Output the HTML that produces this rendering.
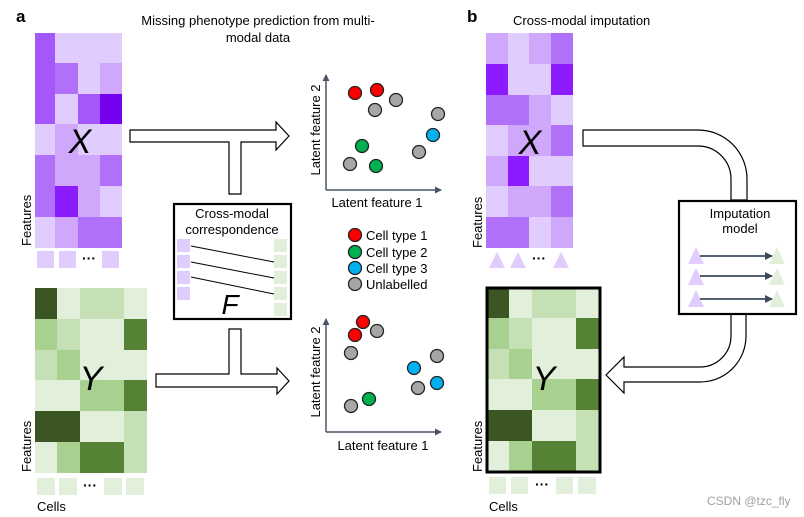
<!DOCTYPE html>
<html><head><meta charset="utf-8"><style>
html,body{margin:0;padding:0;background:#fff;}
svg{display:block;font-family:"Liberation Sans",sans-serif;}
</style></head><body>
<svg width="804" height="517" viewBox="0 0 804 517" xmlns="http://www.w3.org/2000/svg">
<defs>
<marker id="ah" markerWidth="8" markerHeight="8" refX="7" refY="4" orient="auto" markerUnits="userSpaceOnUse"><path d="M0,0 L8,4 L0,8 Z" fill="#3d4a5c"/></marker>
<marker id="ax" markerWidth="8" markerHeight="8" refX="6" refY="4" orient="auto" markerUnits="userSpaceOnUse"><path d="M0,0.5 L7,4 L0,7.5 Z" fill="#4a5568"/></marker>
</defs>
<text x="16" y="22" font-size="17" font-weight="bold">a</text>
<text x="258" y="25" font-size="13" text-anchor="middle">Missing phenotype prediction from multi-</text>
<text x="258" y="42" font-size="13" text-anchor="middle">modal data</text>
<text x="467" y="22" font-size="17" font-weight="bold">b</text>
<text x="513" y="25" font-size="13">Cross-modal imputation</text>

<!-- X matrix a -->
<g>
<rect x="35" y="33" width="20" height="91" fill="#a458fb"/>
<rect x="55" y="33" width="67" height="30" fill="#e0cdfd"/>
<rect x="55" y="63" width="23" height="31" fill="#b070f8"/><rect x="78" y="63" width="22" height="31" fill="#e0cdfd"/><rect x="100" y="63" width="22" height="31" fill="#cfa8fb"/>
<rect x="55" y="94" width="23" height="30" fill="#e0cdfd"/><rect x="78" y="94" width="22" height="30" fill="#a458fb"/><rect x="100" y="94" width="22" height="30" fill="#7600f0"/>
<rect x="35" y="124" width="20" height="31" fill="#e0cdfd"/><rect x="55" y="124" width="23" height="31" fill="#cfa8fb"/><rect x="78" y="124" width="44" height="31" fill="#e0cdfd"/>
<rect x="35" y="155" width="20" height="62" fill="#b070f8"/><rect x="55" y="155" width="45" height="31" fill="#cfa8fb"/><rect x="100" y="155" width="22" height="31" fill="#b070f8"/>
<rect x="55" y="186" width="23" height="31" fill="#8c1cff"/><rect x="78" y="186" width="22" height="31" fill="#cfa8fb"/><rect x="100" y="186" width="22" height="31" fill="#e0cdfd"/>
<rect x="35" y="217" width="20" height="31" fill="#e0cdfd"/><rect x="55" y="217" width="23" height="31" fill="#cfa8fb"/><rect x="78" y="217" width="44" height="31" fill="#b070f8"/>
<text x="80" y="153" font-size="34" font-style="italic" text-anchor="middle">X</text>
<rect x="37" y="251" width="17" height="17" fill="#e0cdfd"/><rect x="59" y="251" width="17" height="17" fill="#e0cdfd"/><rect x="102" y="251" width="17" height="17" fill="#e0cdfd"/>
<text x="89" y="263" font-size="14" text-anchor="middle" font-weight="bold">···</text>
<text transform="translate(31,246) rotate(-90)" font-size="13">Features</text>
</g>

<!-- Y matrix a -->
<g>
<rect x="35" y="288" width="22" height="31" fill="#3b5523"/><rect x="57" y="288" width="23" height="31" fill="#e2efda"/><rect x="80" y="288" width="44" height="31" fill="#c5e0b4"/><rect x="124" y="288" width="23" height="31" fill="#e2efda"/>
<rect x="35" y="319" width="22" height="31" fill="#a8d08e"/><rect x="57" y="319" width="23" height="31" fill="#c5e0b4"/><rect x="80" y="319" width="44" height="31" fill="#e2efda"/><rect x="124" y="319" width="23" height="31" fill="#558234"/>
<rect x="35" y="350" width="22" height="30" fill="#c5e0b4"/><rect x="57" y="350" width="23" height="30" fill="#a8d08e"/><rect x="80" y="350" width="67" height="30" fill="#e2efda"/>
<rect x="35" y="380" width="45" height="31" fill="#e2efda"/><rect x="80" y="380" width="44" height="31" fill="#a8d08e"/><rect x="124" y="380" width="23" height="31" fill="#558234"/>
<rect x="35" y="411" width="45" height="31" fill="#3b5523"/><rect x="80" y="411" width="44" height="31" fill="#e2efda"/><rect x="124" y="411" width="23" height="31" fill="#c5e0b4"/>
<rect x="35" y="442" width="22" height="31" fill="#e2efda"/><rect x="57" y="442" width="23" height="31" fill="#a8d08e"/><rect x="80" y="442" width="44" height="31" fill="#558234"/><rect x="124" y="442" width="23" height="31" fill="#c5e0b4"/>
<text x="91" y="390" font-size="34" font-style="italic" text-anchor="middle">Y</text>
<rect x="37" y="478" width="18" height="17" fill="#e2efda"/><rect x="59" y="478" width="18" height="17" fill="#e2efda"/><rect x="104" y="478" width="18" height="17" fill="#e2efda"/><rect x="126" y="478" width="18" height="17" fill="#e2efda"/>
<text x="90" y="490" font-size="14" text-anchor="middle" font-weight="bold">···</text>
<text transform="translate(31,472) rotate(-90)" font-size="13">Features</text>
<text x="37" y="511" font-size="13">Cells</text>
</g>

<!-- block arrows a -->
<polygon points="130,130 276,130 276,122 289,136 276,150 276,142 241,142 241,194 229,194 229,142 130,142" fill="#fff" stroke="#000" stroke-width="1.2"/>
<polygon points="156,374 229,374 229,329 241,329 241,374 277,374 277,368 289,381 277,394 277,387 156,387" fill="#fff" stroke="#000" stroke-width="1.2"/>

<!-- correspondence box -->
<rect x="174" y="204" width="117" height="115" fill="#fff" stroke="#000" stroke-width="2.2"/>
<text x="232" y="218" font-size="13" text-anchor="middle">Cross-modal</text>
<text x="232" y="234" font-size="13" text-anchor="middle">correspondence</text>
<rect x="177" y="239" width="13" height="13" fill="#e0cdfd"/><rect x="177" y="255" width="13" height="13" fill="#e0cdfd"/><rect x="177" y="271" width="13" height="13" fill="#e0cdfd"/><rect x="177" y="287" width="13" height="13" fill="#e0cdfd"/>
<rect x="274" y="239" width="13" height="13" fill="#e2efda"/><rect x="274" y="255" width="13" height="13" fill="#e2efda"/><rect x="274" y="271" width="13" height="13" fill="#e2efda"/><rect x="274" y="287" width="13" height="13" fill="#e2efda"/><rect x="274" y="303" width="13" height="13" fill="#e2efda"/>
<line x1="191" y1="246" x2="274" y2="262" stroke="#000" stroke-width="1"/>
<line x1="191" y1="262" x2="274" y2="278" stroke="#000" stroke-width="1"/>
<line x1="191" y1="277" x2="274" y2="294" stroke="#000" stroke-width="1"/>
<text x="230" y="314" font-size="28" font-style="italic" text-anchor="middle">F</text>

<!-- scatter top -->
<g stroke="#222" stroke-width="1.3">
<line x1="326" y1="190" x2="326" y2="75" stroke="#4a5568" stroke-width="1.5" marker-end="url(#ax)"/>
<line x1="326" y1="190" x2="441" y2="190" stroke="#4a5568" stroke-width="1.5" marker-end="url(#ax)"/>
<circle cx="355" cy="93" r="6.5" fill="#f00"/><circle cx="377" cy="90" r="6.5" fill="#f00"/>
<circle cx="375" cy="110" r="6.5" fill="#a6a6a6"/><circle cx="396" cy="100" r="6.5" fill="#a6a6a6"/><circle cx="438" cy="114" r="6.5" fill="#a6a6a6"/>
<circle cx="433" cy="135" r="6.5" fill="#00b0f0"/><circle cx="419" cy="152" r="6.5" fill="#a6a6a6"/>
<circle cx="362" cy="146" r="6.5" fill="#00b050"/><circle cx="350" cy="164" r="6.5" fill="#a6a6a6"/><circle cx="376" cy="166" r="6.5" fill="#00b050"/>
</g>
<text x="377" y="207" font-size="13" text-anchor="middle">Latent feature 1</text>
<text transform="translate(320,130) rotate(-90)" font-size="13" text-anchor="middle">Latent feature 2</text>

<!-- legend -->
<g stroke="#222" stroke-width="1.3">
<circle cx="355" cy="235" r="6.5" fill="#f00"/><circle cx="355" cy="252" r="6.5" fill="#00b050"/><circle cx="355" cy="268" r="6.5" fill="#00b0f0"/><circle cx="355" cy="284" r="6.5" fill="#a6a6a6"/>
</g>
<text x="366" y="240" font-size="13">Cell type 1</text>
<text x="366" y="257" font-size="13">Cell type 2</text>
<text x="366" y="273" font-size="13">Cell type 3</text>
<text x="366" y="289" font-size="13">Unlabelled</text>

<!-- scatter bottom -->
<g stroke="#222" stroke-width="1.3">
<line x1="326" y1="432" x2="326" y2="319" stroke="#4a5568" stroke-width="1.5" marker-end="url(#ax)"/>
<line x1="326" y1="432" x2="441" y2="432" stroke="#4a5568" stroke-width="1.5" marker-end="url(#ax)"/>
<circle cx="363" cy="322" r="6.5" fill="#f00"/><circle cx="355" cy="335" r="6.5" fill="#f00"/>
<circle cx="377" cy="331" r="6.5" fill="#a6a6a6"/><circle cx="351" cy="353" r="6.5" fill="#a6a6a6"/>
<circle cx="414" cy="368" r="6.5" fill="#00b0f0"/><circle cx="437" cy="356" r="6.5" fill="#a6a6a6"/>
<circle cx="437" cy="383" r="6.5" fill="#00b0f0"/><circle cx="418" cy="388" r="6.5" fill="#a6a6a6"/>
<circle cx="369" cy="399" r="6.5" fill="#00b050"/><circle cx="351" cy="406" r="6.5" fill="#a6a6a6"/>
</g>
<text x="383" y="450" font-size="13" text-anchor="middle">Latent feature 1</text>
<text transform="translate(320,372) rotate(-90)" font-size="13" text-anchor="middle">Latent feature 2</text>

<!-- X matrix b -->
<g>
<rect x="486" y="33" width="22" height="31" fill="#cfa8fb"/><rect x="508" y="33" width="21" height="31" fill="#e0cdfd"/><rect x="529" y="33" width="22" height="31" fill="#cfa8fb"/><rect x="551" y="33" width="22" height="31" fill="#b070f8"/>
<rect x="486" y="64" width="22" height="31" fill="#8c1cff"/><rect x="508" y="64" width="43" height="31" fill="#e0cdfd"/><rect x="551" y="64" width="22" height="31" fill="#8c1cff"/>
<rect x="486" y="95" width="43" height="30" fill="#b070f8"/><rect x="529" y="95" width="22" height="30" fill="#cfa8fb"/><rect x="551" y="95" width="22" height="30" fill="#e0cdfd"/>
<rect x="486" y="125" width="22" height="31" fill="#e0cdfd"/><rect x="508" y="125" width="43" height="31" fill="#cfa8fb"/><rect x="551" y="125" width="22" height="31" fill="#b070f8"/>
<rect x="486" y="156" width="22" height="30" fill="#cfa8fb"/><rect x="508" y="156" width="21" height="30" fill="#8c1cff"/><rect x="529" y="156" width="44" height="30" fill="#e0cdfd"/>
<rect x="486" y="186" width="22" height="31" fill="#e0cdfd"/><rect x="508" y="186" width="43" height="31" fill="#cfa8fb"/><rect x="551" y="186" width="22" height="31" fill="#b070f8"/>
<rect x="486" y="217" width="43" height="31" fill="#b070f8"/><rect x="529" y="217" width="22" height="31" fill="#e0cdfd"/><rect x="551" y="217" width="22" height="31" fill="#cfa8fb"/>
<text x="530" y="154" font-size="34" font-style="italic" text-anchor="middle">X</text>
<polygon points="497,252 505,268 489,268" fill="#e0cdfd"/><polygon points="518,252 526,268 510,268" fill="#e0cdfd"/><polygon points="561,252 569,268 553,268" fill="#e0cdfd"/>
<text x="539" y="263" font-size="14" text-anchor="middle" font-weight="bold">···</text>
<text transform="translate(482,248) rotate(-90)" font-size="13">Features</text>
</g>

<!-- Y matrix b -->
<g>
<rect x="486" y="287" width="23" height="31" fill="#3b5523"/><rect x="509" y="287" width="23" height="31" fill="#e2efda"/><rect x="532" y="287" width="44" height="31" fill="#c5e0b4"/><rect x="576" y="287" width="25" height="31" fill="#e2efda"/>
<rect x="486" y="318" width="23" height="31" fill="#a8d08e"/><rect x="509" y="318" width="23" height="31" fill="#c5e0b4"/><rect x="532" y="318" width="44" height="31" fill="#e2efda"/><rect x="576" y="318" width="25" height="31" fill="#558234"/>
<rect x="486" y="349" width="23" height="30" fill="#c5e0b4"/><rect x="509" y="349" width="23" height="30" fill="#a8d08e"/><rect x="532" y="349" width="69" height="30" fill="#e2efda"/>
<rect x="486" y="379" width="46" height="31" fill="#e2efda"/><rect x="532" y="379" width="44" height="31" fill="#a8d08e"/><rect x="576" y="379" width="25" height="31" fill="#558234"/>
<rect x="486" y="410" width="46" height="31" fill="#3b5523"/><rect x="532" y="410" width="44" height="31" fill="#e2efda"/><rect x="576" y="410" width="25" height="31" fill="#c5e0b4"/>
<rect x="486" y="441" width="23" height="32" fill="#e2efda"/><rect x="509" y="441" width="23" height="32" fill="#a8d08e"/><rect x="532" y="441" width="44" height="32" fill="#558234"/><rect x="576" y="441" width="25" height="32" fill="#c5e0b4"/>
<rect x="487" y="288" width="113" height="184" fill="none" stroke="#000" stroke-width="3"/>
<text x="544" y="390" font-size="34" font-style="italic" text-anchor="middle">Y</text>
<rect x="489" y="477" width="17" height="17" fill="#e2efda"/><rect x="511" y="477" width="17" height="17" fill="#e2efda"/><rect x="556" y="477" width="17" height="17" fill="#e2efda"/><rect x="578" y="477" width="18" height="17" fill="#e2efda"/>
<text x="542" y="489" font-size="14" text-anchor="middle" font-weight="bold">···</text>
<text transform="translate(482,472) rotate(-90)" font-size="13">Features</text>
<text x="489" y="511" font-size="13">Cells</text>
</g>

<!-- curved arrows b -->
<path d="M583,130 L698,130 A49,49 0 0 1 747,179 L747,200 L731,200 L731,179 A33,33 0 0 0 698,146 L583,146 Z" fill="#fff" stroke="#000" stroke-width="1.2"/>
<path d="M731,314 L731,336 A31,31 0 0 1 700,367 L624,367 L624,357 L606,375 L624,393 L624,382 L700,382 A46,46 0 0 0 746,336 L746,314" fill="#fff" stroke="#000" stroke-width="1.2"/>

<!-- imputation box -->
<rect x="679" y="201" width="117" height="113" fill="#fff" stroke="#000" stroke-width="2.2"/>
<text x="740" y="218" font-size="13" text-anchor="middle">Imputation</text>
<text x="740" y="233" font-size="13" text-anchor="middle">model</text>
<polygon points="696,247 704,264 688,264" fill="#e0cdfd"/><polygon points="696,268 704,285 688,285" fill="#e0cdfd"/><polygon points="696,290 704,307 688,307" fill="#e0cdfd"/>
<polygon points="777,247 785,264 769,264" fill="#e2efda"/><polygon points="777,268 785,285 769,285" fill="#e2efda"/><polygon points="777,290 785,307 769,307" fill="#e2efda"/>
<line x1="700" y1="256" x2="772" y2="256" stroke="#3d4a5c" stroke-width="1.8" marker-end="url(#ah)"/>
<line x1="700" y1="276" x2="772" y2="276" stroke="#3d4a5c" stroke-width="1.8" marker-end="url(#ah)"/>
<line x1="700" y1="299" x2="772" y2="299" stroke="#3d4a5c" stroke-width="1.8" marker-end="url(#ah)"/>

<text x="707" y="505" font-size="12" fill="#a0a0a0">CSDN @tzc_fly</text>
</svg>
</body></html>
